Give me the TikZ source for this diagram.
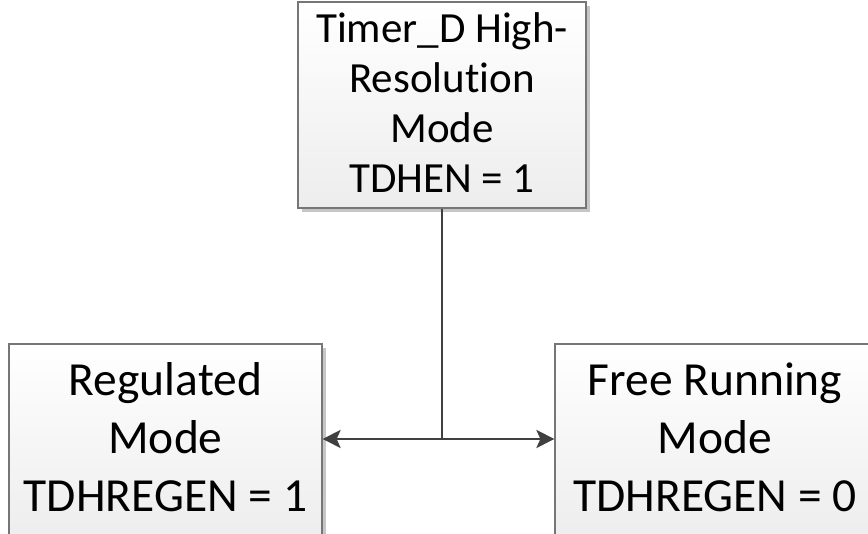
\documentclass[tikz,border=0pt]{standalone}
\usepackage{fontspec}
\setmainfont{Carlito}[Ligatures={NoCommon}]
\usetikzlibrary{arrows.meta,shadows}
\definecolor{boxline}{HTML}{767676}
\definecolor{boxbottom}{HTML}{EDEDED}
\definecolor{shadowgray}{HTML}{C6C6C6}
\definecolor{wire}{HTML}{404040}
\begin{document}
\begin{tikzpicture}[x=1pt,y=1pt]
\tikzset{
  modebox/.style={draw=boxline, line width=1.2pt, inner sep=0pt,
    top color=white, bottom color=boxbottom,
    general shadow={fill=shadowgray, shadow xshift=4pt, shadow yshift=-4pt}},
  wireline/.style={draw=wire, line width=2.5pt},
  wirearrow/.style={wireline, -{Stealth[length=18pt, width=18pt, inset=4pt]}}
}
\useasboundingbox (0,0) rectangle (868,534);
\clip (0,0) rectangle (868,534);
\fill[white] (0,0) rectangle (868,534);
% top box: x 298..586, y 333..525 ; text last baseline at 341
\node[modebox, minimum width=288pt, minimum height=192pt] (hrm) at (442,429)
  {\fontsize{43}{50}\selectfont\begin{tabular}[b]{@{}c@{}}\rule{0pt}{41pt}Timer\_D High-\\Resolution\\Mode\\TDHEN = 1\end{tabular}};
% left box: top at 190
\node[modebox, minimum width=313pt, minimum height=195pt] (reg) at (165.5,92.5)
  {\fontsize{47.5}{58}\selectfont\begin{tabular}[b]{@{}c@{}}Regulated\\Mode\\TDHREGEN = 1\end{tabular}};
% right box
\node[modebox, minimum width=320pt, minimum height=195pt] (free) at (715,92.5)
  {\fontsize{47.5}{58}\selectfont\begin{tabular}[b]{@{}c@{}}Free Running\\Mode\\TDHREGEN = 0\end{tabular}};
\coordinate (j) at (hrm.south |- 0,95);
\draw[wireline] (hrm.south) -- (j);
\draw[wirearrow] (j) -- (j -| reg.east);
\draw[wirearrow] (j) -- (j -| free.west);
\end{tikzpicture}
\end{document}
